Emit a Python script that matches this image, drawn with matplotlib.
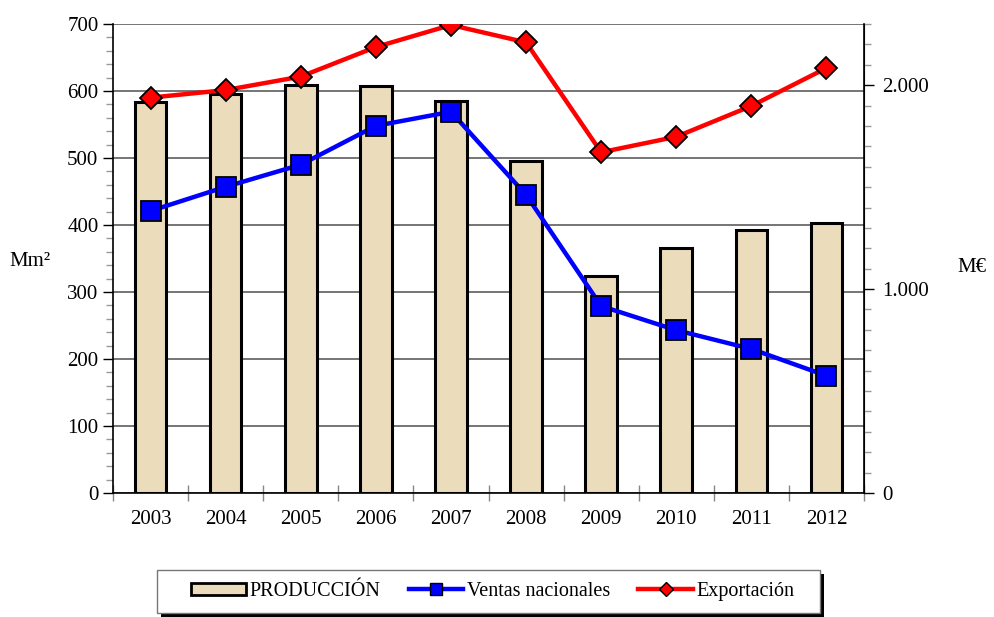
import numpy as np
import matplotlib.pyplot as plt
from matplotlib.patches import Rectangle
from matplotlib.lines import Line2D
from matplotlib.ticker import MultipleLocator, FuncFormatter

plt.rcParams['font.family'] = ['Liberation Serif', 'DejaVu Serif']

# data
years = ['2003', '2004', '2005', '2006', '2007', '2008', '2009', '2010', '2011', '2012']
produccion = [584, 595, 609, 608, 585, 495, 324, 366, 392, 403]          # Mm2
ventas_nacionales = [421, 457, 490, 548, 569, 445, 279, 243, 215, 175]   # Mm2
exportacion = [1939, 1976, 2042, 2187, 2295, 2210, 1671, 1747, 1898, 2084]  # M EUR

W, H = 995, 617
fig = plt.figure(figsize=(W / 100, H / 100), dpi=100)
ax = fig.add_axes([113 / W, 1 - 493 / H, (864 - 113) / W, (493 - 24) / H])

x = np.arange(len(years))
ax.bar(x, produccion, width=0.42, color='#EBDCBC', edgecolor='black', linewidth=2.2, zorder=2)
ax.plot(x, ventas_nacionales, color='#0000FF', lw=3.2, marker='s', ms=14,
        mfc='#0000FF', mec='black', mew=1.3, zorder=4)

ax.set_xlim(-0.5, 9.5)
ax.set_ylim(0, 700)
ax.yaxis.set_major_locator(MultipleLocator(100))
ax.yaxis.set_minor_locator(MultipleLocator(20))
ax.grid(axis='y', which='major', color='#505050', lw=1.1, zorder=0)
ax.set_axisbelow(True)
ax.tick_params(axis='y', which='major', length=7, width=1, color='black', labelsize=15)
ax.tick_params(axis='y', which='minor', length=5, width=1, color='#999999')

ax.set_xticks(x)
ax.set_xticklabels(years)
ax.set_xticks(np.arange(-0.5, 10, 1), minor=True)
ax.tick_params(axis='x', which='major', length=0, labelsize=15, pad=12)
ax.tick_params(axis='x', which='minor', direction='inout', length=11, width=1, color='#888888')

ax.spines['top'].set_visible(False)
ax.spines['left'].set_linewidth(1.2)
ax.spines['bottom'].set_linewidth(1.2)

ax2 = ax.twinx()
ax2.plot(x, exportacion, color='#FF0000', lw=3.2, marker='D', ms=11,
         mfc='#FF0000', mec='black', mew=1.3, zorder=4)
ax2.set_ylim(0, 2300)
ax2.yaxis.set_major_locator(MultipleLocator(1000))
ax2.yaxis.set_minor_locator(MultipleLocator(100))
ax2.yaxis.set_major_formatter(FuncFormatter(lambda v, p: f'{int(v):,}'.replace(',', '.')))
ax2.tick_params(axis='y', which='major', length=7, width=1, color='black', labelsize=15, pad=6)
ax2.tick_params(axis='y', which='minor', length=5, width=1, color='#999999')
ax2.spines['top'].set_visible(False)
ax2.spines['left'].set_visible(False)
ax2.spines['bottom'].set_visible(False)
ax2.spines['right'].set_linewidth(1.2)

fig.text(30 / W, 1 - 262 / H, 'Mm²', fontsize=15, ha='center', va='center')
fig.text(972 / W, 1 - 268 / H, 'M€', fontsize=15, ha='center', va='center')

# legend box with shadow
fig.patches.append(Rectangle((161 / W, 1 - 617 / H), (820 - 157) / W, 43 / H,
                             transform=fig.transFigure, facecolor='black', edgecolor='none'))
fig.patches.append(Rectangle((157 / W, 1 - 613 / H), (820 - 157) / W, 43 / H,
                             transform=fig.transFigure, facecolor='white', edgecolor='#777777', lw=1))

handles = [
    Rectangle((0, 0), 1, 1, facecolor='#EBDCBC', edgecolor='black', lw=2),
    Line2D([], [], color='#0000FF', lw=3.2, marker='s', ms=9, mfc='#0000FF', mec='black', mew=1),
    Line2D([], [], color='#FF0000', lw=3.2, marker='D', ms=7, mfc='#FF0000', mec='black', mew=1),
]
fig.legend(handles, ['PRODUCCIÓN', 'Ventas nacionales', 'Exportación'], ncol=3,
           loc='center', bbox_to_anchor=(493 / W, 1 - 591.5 / H), frameon=False,
           fontsize=14.5, handlelength=2.7, handleheight=0.6, handletextpad=0.2,
           columnspacing=1.4)

fig.savefig('out.png', dpi=100)
